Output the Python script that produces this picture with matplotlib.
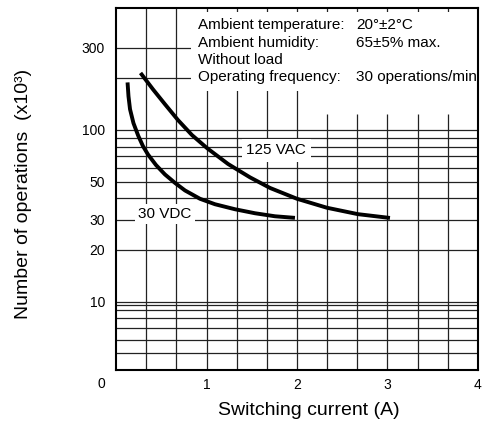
import matplotlib
matplotlib.use("Agg")
import matplotlib.pyplot as plt
import matplotlib.transforms as mtransforms

plt.rcParams['font.family'] = ['Liberation Sans', 'DejaVu Sans']

# curves (current in A, operations in x10^3)
vac_current = [0.284, 0.409, 0.541, 0.685, 0.840, 1.006, 1.238, 1.481, 1.702, 2.000,
               2.331, 2.674, 3.006]
vac_ops = [210, 172, 141, 114, 93.2, 78.3, 63.3, 52.9, 45.9, 39.7, 35.2, 32.3, 30.8]

vdc_current = [0.129, 0.138, 0.155, 0.193, 0.246, 0.298, 0.354, 0.442, 0.541, 0.652,
               0.762, 0.928, 1.094, 1.315, 1.536, 1.757, 1.956]
vdc_ops = [184, 156.8, 131.8, 109.4, 92.3, 80.4, 71.8, 62.4, 55.0, 49.1, 44.4, 39.7,
           36.9, 34.5, 32.7, 31.4, 30.8]

ytick_vals = [4, 10, 20, 30, 50, 100, 300]
ytick_labels = ['0', '10', '20', '30', '50', '100', '300']
xtick_vals = [1, 2, 3, 4]

hgrid = [5, 6, 7, 8, 9, 9.5, 10, 20, 30, 40, 50, 60, 70, 80, 90, 100, 200, 300]
vgrid = [k / 3 for k in range(1, 12)]

fig = plt.figure(figsize=(4.87, 4.28), dpi=100)
ax = fig.add_axes([0.2382, 0.1355, 0.7433, 0.8451])
ax.set_yscale('log')
ax.set_xlim(0, 4)
ax.set_ylim(4, 510)

# grid drawn by hand (scan has a few broken lines on the right)
ax.hlines(hgrid, 0, 4, colors='#222222', lw=0.9, zorder=1)
for x in vgrid:
    if x > 2.2:
        ax.vlines(x, 4, 123, colors='#222222', lw=0.9, zorder=1)
        ax.vlines(x, 177, 510, colors='#222222', lw=0.9, zorder=1)
    else:
        ax.vlines(x, 4, 510, colors='#222222', lw=0.9, zorder=1)

ax.plot(vac_current, vac_ops, color='black', lw=2.8, zorder=2.6, solid_joinstyle='round')
ax.plot(vdc_current, vdc_ops, color='black', lw=2.8, zorder=2.6, solid_joinstyle='round')

ax.text(1.77, 76, '125 VAC', fontsize=11, ha='center', va='center', zorder=2.3,
        bbox=dict(boxstyle='square,pad=0.3', fc='white', ec='none'))
ax.text(0.54, 32.5, '30 VDC', fontsize=11, ha='center', va='center', zorder=2.3,
        bbox=dict(boxstyle='square,pad=0.2', fc='white', ec='none'))

left_txt = 'Ambient temperature:\nAmbient humidity:\nWithout load\nOperating frequency:'
right_txt = '20°±2°C\n65±5% max.\n \n30 operations/min'
ax.text(0.2265, 0.972, left_txt, transform=ax.transAxes, fontsize=11, ha='left', va='top',
        linespacing=1.3, zorder=2.3,
        bbox=dict(boxstyle='square,pad=0.45', fc='white', ec='none'))
ax.text(0.663, 0.972, right_txt, transform=ax.transAxes, fontsize=11, ha='left', va='top',
        linespacing=1.3, zorder=2.3,
        bbox=dict(boxstyle='square,pad=0.45', fc='white', ec='none'))

ax.set_yticks(ytick_vals)
ax.set_yticklabels(ytick_labels)
ax.yaxis.set_minor_locator(matplotlib.ticker.NullLocator())
ax.set_xticks(xtick_vals)
ax.set_xticklabels([str(v) for v in xtick_vals])
ax.tick_params(axis='both', length=0, labelsize=10)
ax.tick_params(axis='y', pad=8)
ax.tick_params(axis='x', pad=6)
# the corner "0" sits a bit below the axis
lab0 = ax.get_yticklabels()[0]
lab0.set_va('top')
lab0.set_transform(lab0.get_transform() + mtransforms.ScaledTranslation(0, -5 / 72, fig.dpi_scale_trans))

for s in ax.spines.values():
    s.set_linewidth(1.5)
    s.set_zorder(2.5)

ax.set_xlabel('Switching current (A)', fontsize=14)
ax.xaxis.set_label_coords(0.532, -0.088)
ax.set_ylabel('Number of operations  (x10³)', fontsize=14)
ax.yaxis.set_label_coords(-0.232, 0.487)

fig.savefig('out.png', dpi=100)
